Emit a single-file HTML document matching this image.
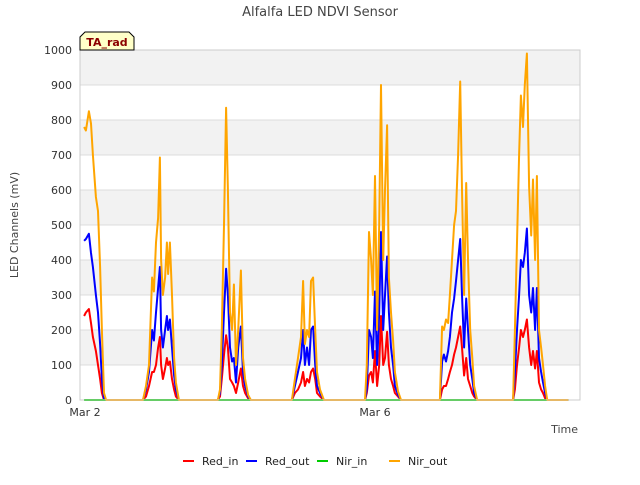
<!DOCTYPE html>
<html><head><meta charset="utf-8"><style>
body{margin:0;background:#fff;}
svg text{font-family:"DejaVu Sans","Liberation Sans",sans-serif;}
</style></head><body>
<svg id="chart" width="640" height="480" xmlns="http://www.w3.org/2000/svg">
<g id="bands"></g>
<g id="grid"></g>
<g id="series"></g>
<g id="axes"></g>
<text x="320" y="16" text-anchor="middle" font-size="13" fill="#444">Alfalfa LED NDVI Sensor</text>
<text transform="translate(18,225) rotate(-90)" text-anchor="middle" font-size="11" fill="#444">LED Channels (mV)</text>
<text x="578" y="433" text-anchor="end" font-size="11" fill="#444">Time</text>
<g>
<path d="M80,50 L80,37 L85,32 L129,32 L134,37 L134,50 Z" fill="#ffffc8" stroke="#000" stroke-width="1"/>
<text x="107" y="46" text-anchor="middle" font-size="11" font-weight="bold" fill="#8b0000">TA_rad</text>
</g>
<g id="legend"></g>
</svg>
<script>
const hours=[-0.3,0.3,1.3,2.0,2.6,3.6,4.3,5.0,5.6,6.3,7.0,
19.2,20.2,21.2,22.2,22.8,23.5,24.2,24.8,25.2,25.8,26.5,27.1,27.5,28.1,28.8,29.5,30.1,31.1,
44.0,44.7,45.3,46.0,46.7,47.3,48.0,48.7,49.3,50.0,50.7,51.6,52.3,53.0,54.0,54.9,
68.5,69.5,70.5,71.5,72.2,72.8,73.5,74.2,74.8,75.5,76.2,76.8,77.8,79.1,
92.7,93.3,94.0,94.7,95.3,96.0,96.7,97.4,98.0,98.7,99.3,100.0,100.6,101.3,102.0,102.6,103.6,104.6,
117.5,118.2,118.8,119.5,120.2,120.8,121.5,122.2,122.8,123.5,124.2,124.8,125.5,126.2,126.8,127.5,128.2,128.8,129.8,
141.7,142.3,143.0,143.7,144.3,145.0,145.6,146.3,147.0,147.7,148.3,149.0,149.6,150.3,151.0,151.6,152.3,153.0,160.0];
const redIn=[240,250,260,220,180,140,100,60,20,0,0,
0,10,40,80,80,100,150,180,100,60,90,120,100,110,60,30,10,0,
0,10,60,130,185,150,60,50,40,20,50,90,40,20,5,0,
0,20,30,50,80,40,60,50,80,90,60,20,10,0,
0,20,70,80,50,140,40,100,240,100,120,195,100,60,40,20,10,0,
0,30,40,40,60,80,100,130,150,180,210,150,70,120,60,40,20,10,0,
0,30,100,150,200,180,200,230,150,100,140,90,140,50,30,20,5,0,0];
const redOut=[455,460,475,420,380,300,250,160,60,5,0,
0,30,80,200,170,250,320,380,200,150,200,240,200,230,150,70,30,0,
0,20,100,250,375,300,150,110,120,50,150,210,80,40,10,0,
0,40,80,120,200,100,150,100,200,210,100,40,20,0,
0,30,200,180,120,310,100,250,480,200,300,410,250,150,100,40,15,0,
0,110,130,110,140,180,250,290,340,400,460,300,150,290,200,100,60,20,0,
0,80,200,300,400,380,420,490,300,250,320,200,320,120,80,50,20,0,0];
const nirIn=hours.map(()=>0);
const nirOut=[780,770,825,790,700,580,540,380,200,20,0,
0,40,100,350,310,450,520,693,400,300,350,450,360,450,300,120,50,0,
0,30,200,500,835,600,250,200,330,100,200,370,120,60,15,0,
0,60,120,180,340,160,200,180,340,350,200,80,30,0,
0,100,480,400,300,640,200,500,900,400,600,785,350,250,170,80,25,0,
0,210,200,230,220,300,400,500,540,700,910,600,300,620,400,200,120,40,0,
0,200,450,700,870,780,900,990,610,470,630,400,640,200,150,100,40,0,0];
const yTicks=[0,100,200,300,400,500,600,700,800,900,1000];
const xTickLabels=["Mar 2","Mar 6"];
const xTickHours=[0,96];

const L=80,R=580,T=50,B=400;
const xs=h=>85+h/24*72.5;
const ys=v=>B-(v/1000)*(B-T);
const NS="http://www.w3.org/2000/svg";
function mk(tag,attrs,parent){const e=document.createElementNS(NS,tag);for(const k in attrs)e.setAttribute(k,attrs[k]);parent.appendChild(e);return e;}
const bands=document.getElementById('bands'),grid=document.getElementById('grid'),axes=document.getElementById('axes'),series=document.getElementById('series'),legend=document.getElementById('legend');
for(let i=0;i<yTicks.length-1;i++){
  if(i%2===1){const r=mk('rect',{x:L,y:ys(yTicks[i+1]),width:R-L,height:ys(yTicks[i])-ys(yTicks[i+1]),fill:'#f2f2f2'},bands);
  
  }
}
yTicks.forEach(v=>{
  const l=mk('line',{x1:L,x2:R,y1:ys(v),y2:ys(v),stroke:'#dcdcdc','stroke-width':1},grid);
  
  
  const t=mk('text',{x:L-8,y:ys(v)+4,'text-anchor':'end','font-size':11,fill:'#333'},axes);
  
  
  t.textContent=v;
});
const fr=mk('rect',{x:L,y:T,width:R-L,height:B-T,fill:'none',stroke:'#ccc'},axes);


xTickLabels.forEach((s,i)=>{
  const t=mk('text',{x:xs(xTickHours[i]),y:416,'text-anchor':'middle','font-size':11,fill:'#333'},axes);
  
  
  t.textContent=s;
});
const defs=[["Red_in",redIn,"#ff0000"],["Red_out",redOut,"#0000ff"],["Nir_in",nirIn,"#00cc00"],["Nir_out",nirOut,"#ffa500"]];
defs.forEach(([name,vals,col])=>{
  const d=vals.map((v,i)=>(i?'L':'M')+xs(hours[i]).toFixed(1)+','+ys(v).toFixed(1)).join(' ');
  const p=mk('path',{d:d,fill:'none',stroke:col,'stroke-width':2,'stroke-linejoin':'round'},series);
  
  
});
const lx=[183,246,317,389];
defs.forEach(([name,vals,col],i)=>{
  const g=mk('g',{},legend);
  
  
  mk('line',{x1:lx[i],x2:lx[i]+11,y1:461,y2:461,stroke:col,'stroke-width':2},g);
  const t=mk('text',{x:lx[i]+19,y:465,'font-size':11,fill:'#222'},g);
  t.textContent=name;
});
</script>
</body></html>
